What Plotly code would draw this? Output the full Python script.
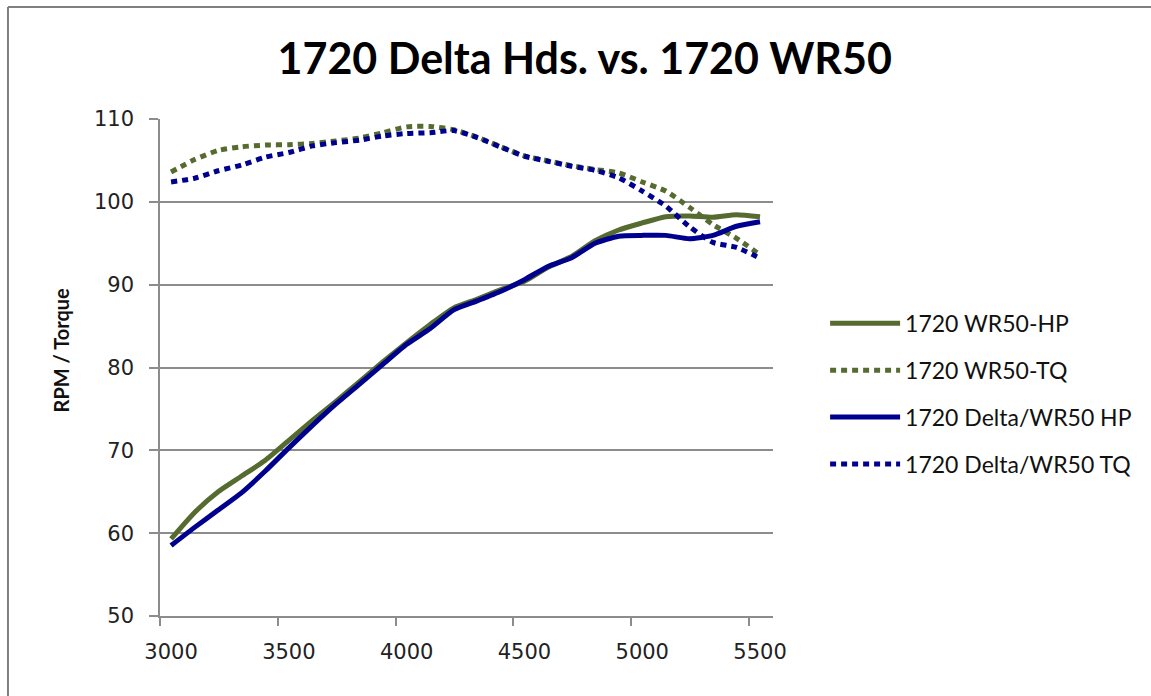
import plotly.graph_objects as go

# Engine speed (rpm)
rpm = [3000, 3100, 3200, 3300, 3400, 3500, 3600, 3700, 3800, 3900, 4000, 4100, 4200,
       4300, 4400, 4500, 4600, 4700, 4800, 4900, 5000, 5100, 5200, 5300, 5400, 5500]

wr50_hp = [59.3, 62.5, 65.0, 66.9, 68.8, 71.2, 73.6, 75.9, 78.3, 80.7, 83.0, 85.2, 87.2,
           88.25, 89.4, 90.4, 92.1, 93.4, 95.3, 96.6, 97.45, 98.2, 98.3, 98.15, 98.45, 98.2]
wr50_tq = [103.6, 105.1, 106.2, 106.65, 106.85, 106.9, 107.05, 107.35, 107.7, 108.35, 109.05, 109.1, 108.7,
           107.8, 106.65, 105.55, 104.95, 104.35, 103.9, 103.5, 102.4, 101.3, 99.35, 97.25, 95.6, 93.6]
delta_hp = [58.5, 60.7, 62.8, 64.9, 67.5, 70.3, 73.0, 75.6, 78.0, 80.4, 82.8, 84.7, 86.95,
            88.05, 89.2, 90.6, 92.2, 93.25, 95.0, 95.85, 95.95, 95.95, 95.55, 95.95, 97.05, 97.6]
delta_tq = [102.4, 102.85, 103.75, 104.45, 105.4, 105.95, 106.75, 107.15, 107.45, 107.95, 108.25, 108.35, 108.6,
            107.75, 106.6, 105.5, 104.9, 104.3, 103.8, 102.9, 101.3, 99.5, 97.0, 95.1, 94.5, 93.2]

x_ticks = [3000, 3500, 4000, 4500, 5000, 5500]
y_ticks = [50, 60, 70, 80, 90, 100, 110]

GREEN = "#566B30"
BLUE = "#00008F"
GRID = "#8c8c8c"
DOTS = "6px,5px"

# (name, values, colour, dash, legend rank); listed in drawing order
series = [
    ("1720 WR50-HP", wr50_hp, GREEN, "solid", 1),
    ("1720 WR50-TQ", wr50_tq, GREEN, DOTS, 2),
    ("1720 Delta/WR50 TQ", delta_tq, BLUE, DOTS, 4),
    ("1720 Delta/WR50 HP", delta_hp, BLUE, "solid", 3),
]

fig = go.Figure()
for name, vals, color, dash, rank in series:
    fig.add_trace(go.Scatter(
        x=rpm, y=vals, name=name, mode="lines", legendgroup=f"g{rank}", legendrank=rank,
        line=dict(color=color, width=5, dash=dash, shape="spline", smoothing=0.6),
    ))

fig.update_layout(
    width=1151, height=696,
    margin=dict(l=160, r=378, t=119, b=80, autoexpand=False),
    paper_bgcolor="white", plot_bgcolor="white",
    title=dict(text="<b>1720 Delta Hds. vs. 1720 WR50</b>", x=0.508, xanchor="center",
               y=0.915, yanchor="middle",
               font=dict(family="Lato", size=43, color="black")),
    showlegend=True,
    legend=dict(x=1.085, y=0.447, xanchor="left", yanchor="middle",
                traceorder="grouped", tracegroupgap=14, itemwidth=70,
                font=dict(family="Lato", size=23, color="#111"),
                bgcolor="rgba(0,0,0,0)"),
    font=dict(family="DejaVu Sans", size=21, color="#222"),
)

fig.update_xaxes(
    range=[2953, 5555], tickvals=x_ticks, ticks="", showgrid=False,
    showline=True, linecolor=GRID, linewidth=1.5, zeroline=False,
    ticklabelstandoff=16,
    minor=dict(tick0=2953, dtick=500, ticks="outside", ticklen=8, tickcolor=GRID, tickwidth=1.5, showgrid=False),
    tickfont=dict(family="DejaVu Sans", size=21, color="#222"),
)
fig.update_yaxes(
    range=[50, 110], tickvals=y_ticks, ticks="outside", ticklen=9, tickcolor=GRID, tickwidth=1.5,
    showgrid=True, gridcolor=GRID, gridwidth=1.5,
    showline=True, linecolor=GRID, linewidth=1.5, zeroline=False,
    ticklabelstandoff=11,
    tickfont=dict(family="DejaVu Sans", size=21, color="#222"),
)

# y-axis title placed slightly above the plot's mid-height
fig.add_annotation(text="<b>RPM / Torque</b>", xref="paper", yref="paper", x=-0.161, y=0.535,
                   textangle=-90, showarrow=False, xanchor="center", yanchor="middle",
                   font=dict(family="Lato", size=20, color="#111"))

# chart frame (top and left edges)
fig.add_shape(type="line", xref="paper", yref="paper", x0=-0.248, x1=1.62, y0=1.2254, y1=1.2254,
              line=dict(color="#808080", width=2))
fig.add_shape(type="line", xref="paper", yref="paper", x0=-0.248, x1=-0.248, y0=-0.17, y1=1.2254,
              line=dict(color="#808080", width=2))

fig.write_html("out.html")
